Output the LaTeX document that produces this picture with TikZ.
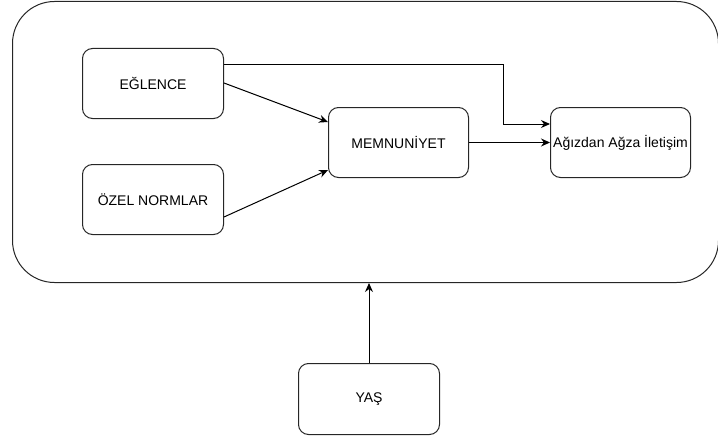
\documentclass[tikz,border=0pt]{standalone}
\usepackage{fontspec}
\setmainfont{Liberation Sans}
\usetikzlibrary{arrows.meta}
\begin{document}
\begin{tikzpicture}[x=1pt,y=-1pt,
  box/.style={draw=black!85,line width=1pt,rounded corners=10pt,minimum width=141pt,minimum height=70pt,inner sep=0pt,font=\fontsize{14pt}{16pt}\selectfont,anchor=north west},
  conn/.style={draw=black,line width=1pt,-{Stealth[length=9pt,width=8pt]}}]
\useasboundingbox (0,0) rectangle (718,436);
\node[draw=black!85,line width=1pt,rounded corners=42pt,minimum width=706pt,minimum height=281pt,anchor=north west,inner sep=0pt] (outer) at (12,1) {};
\node[box] (egl) at (82,48) {EĞLENCE};
\node[box] (oz) at (82,164) {ÖZEL NORMLAR};
\node[box,minimum width=140pt] (mem) at (328,107) {MEMNUNİYET};
\node[box,minimum width=140pt] (agz) at (550,107) {Ağızdan Ağza İletişim};
\node[box,minimum width=141pt,minimum height=71pt] (yas) at (298,363) {YAŞ};
\coordinate (c1) at (503,65);
\draw[conn] (egl.east |- 0,83) -- (mem.west |- 0,122);
\draw[conn] (oz.east |- 0,217) -- (mem.west |- 0,170);
\draw[conn] (egl.east |- c1) -- (c1) |- (agz.west |- 0,124);
\draw[conn] (mem.east) -- (agz.west);
\draw[conn] (yas.north -| 369,0) -- (outer.south -| 369,0);
\end{tikzpicture}
\end{document}
